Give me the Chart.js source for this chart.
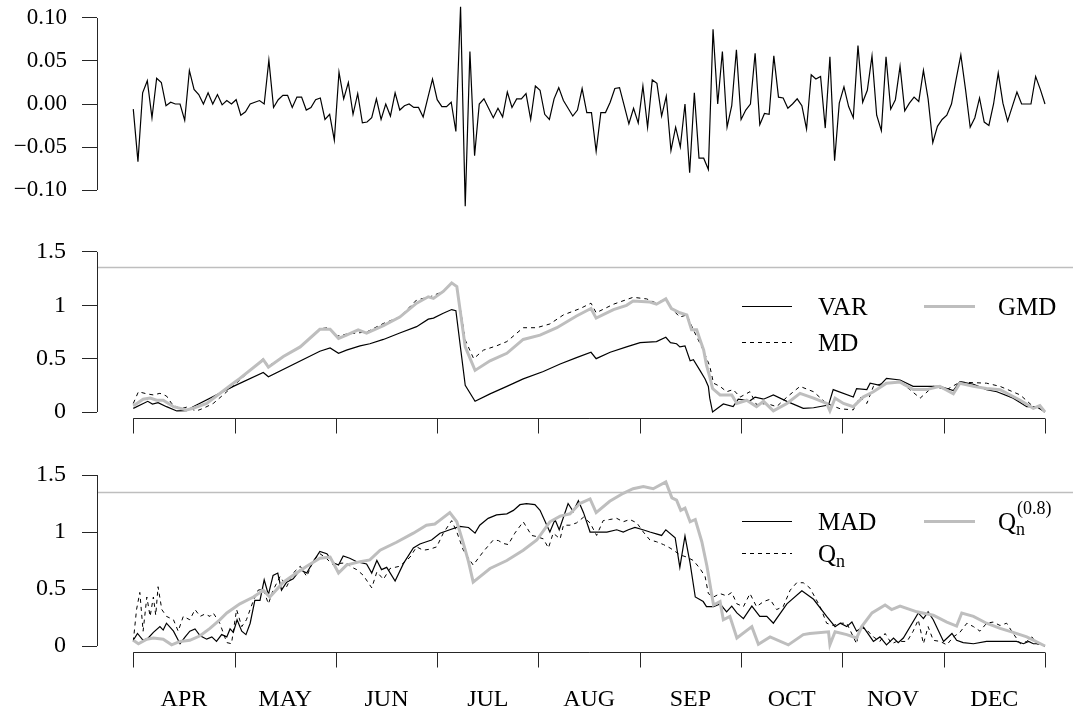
<!DOCTYPE html>
<html><head><meta charset="utf-8">
<script src="https://cdn.jsdelivr.net/npm/chart.js@4"></script>
<style>
html,body{margin:0;padding:0;background:#fff;}
#wrap{position:relative;width:1073px;height:711px;overflow:hidden;background:#fff;}
canvas{position:absolute;left:0;}
</style></head><body>
<div id="wrap">
<canvas id="c1" width="1073" height="215" style="top:0px"></canvas>
<canvas id="c2" width="1073" height="225" style="top:215px"></canvas>
<canvas id="c3" width="1073" height="271" style="top:440px"></canvas>
</div>
<script>
// ---------------- DATA ----------------
const monthLabels = ['APR','MAY','JUN','JUL','AUG','SEP','OCT','NOV','DEC'];
const topTicks = [-0.10,-0.05,0,0.05,0.10];
const scaleTicks = [0,0.5,1,1.5];
const refMid = 1.36;
const refBot = 1.35;

// daily returns, day index 0..195
const returns = [
-0.006,-0.067,0.013,0.027,-0.016,0.030,0.025,-0.002,0.002,0.000,
0.000,-0.019,0.039,0.017,0.011,0.000,0.013,0.000,0.011,-0.001,
0.004,0.000,0.005,-0.013,-0.009,0.000,0.002,0.004,0.000,0.051,
-0.004,0.005,0.010,0.010,-0.004,0.008,0.008,-0.007,-0.004,0.005,
0.007,-0.018,-0.012,-0.042,0.037,0.006,0.025,-0.012,0.012,
-0.022,-0.021,-0.016,0.006,-0.018,0.000,-0.014,0.013,-0.007,-0.002,
0.000,-0.004,-0.004,-0.015,0.007,0.029,0.005,-0.003,-0.003,0.002,
-0.032,0.113,-0.119,0.061,-0.060,0.000,0.006,-0.005,-0.016,-0.005,
-0.015,0.014,-0.004,0.006,0.006,0.012,-0.018,0.021,0.016,-0.012,
-0.018,0.006,0.019,0.004,-0.005,-0.014,-0.007,0.018,-0.010,-0.010,
-0.055,-0.010,-0.010,0.002,0.018,0.019,-0.002,-0.023,-0.005,-0.022,
0.021,-0.027,0.028,0.024,-0.014,0.009,-0.054,-0.027,-0.050,0.000,
-0.080,0.013,-0.063,-0.063,-0.076,
0.087,0.000,0.061,-0.027,-0.002,0.063,-0.018,-0.007,0.000,0.059,
-0.024,-0.011,-0.012,0.056,0.008,0.007,-0.005,0.000,0.006,-0.002,
-0.029,0.034,0.029,0.032,-0.028,0.055,-0.066,0.001,0.020,-0.003,
-0.016,0.068,0.002,0.016,0.056,-0.013,-0.031,0.055,-0.006,0.005,
0.044,-0.008,0.001,0.008,0.003,0.039,0.006,-0.045,-0.026,-0.018,
-0.013,0.000,0.029,0.057,0.017,-0.027,-0.016,0.007,-0.021,-0.025,
0.000,0.036,0.001,-0.020,-0.003,0.014,0.000,0.000,0.000,0.032,
0.017,0.000];

// [day index, value]
const varSeries = [[0,0.034],[3.1,0.10],[4.1,0.075],[5.3,0.088],[7.1,0.05],[9.3,0.01],[11.4,0.012],[12.8,0.05],[21.4,0.24],[27.8,0.37],[28.9,0.33],[39.9,0.57],[42.1,0.60],[43.9,0.55],[45.6,0.58],[48.5,0.62],[50.6,0.64],[53.5,0.68],[57.0,0.74],[60.6,0.80],[63.1,0.87],[64.2,0.88],[66.3,0.925],[68.1,0.96],[69.0,0.95],[71.0,0.25],[73.1,0.10],[76.3,0.17],[79.9,0.24],[83.4,0.31],[87.7,0.38],[91.3,0.45],[94.8,0.51],[97.9,0.56],[99.0,0.50],[102.0,0.56],[105.5,0.61],[108.4,0.65],[111.9,0.66],[113.9,0.70],[114.9,0.65],[116.2,0.64],[116.9,0.61],[118.0,0.62],[119.1,0.48],[119.8,0.49],[121.2,0.39],[122.3,0.31],[123.0,0.24],[123.3,0.13],[123.9,0.0],[126.2,0.075],[128.3,0.05],[129.4,0.12],[131.9,0.105],[133.0,0.14],[134.8,0.12],[136.9,0.16],[139.8,0.10],[143.3,0.035],[145.5,0.04],[148.7,0.065],[149.7,0.21],[154.0,0.14],[154.7,0.22],[156.9,0.21],[157.6,0.27],[159.7,0.25],[161.1,0.315],[164.0,0.30],[166.8,0.24],[170.4,0.24],[172.5,0.24],[175.4,0.20],[176.8,0.285],[179.7,0.26],[182.5,0.21],[184.7,0.19],[188.2,0.13],[191.1,0.05],[193.2,0.05],[195.0,0.0]];

const mdSeries = [[0,0.08],[1.1,0.19],[2.9,0.17],[4.3,0.16],[5.7,0.175],[7.1,0.15],[8.2,0.08],[10.0,0.03],[11.4,0.045],[13.5,0.01],[15.0,0.035],[17.1,0.08],[20.0,0.19],[22.8,0.30],[27.8,0.50],[28.9,0.43],[32.1,0.52],[35.7,0.61],[39.9,0.78],[41.7,0.79],[43.5,0.71],[45.6,0.73],[49.9,0.75],[53.5,0.83],[57.0,0.89],[60.6,1.05],[63.5,1.08],[66.3,1.13],[68.1,1.21],[69.2,1.175],[71.0,0.675],[72.8,0.50],[74.9,0.58],[77.7,0.62],[79.9,0.66],[83.4,0.79],[86.3,0.79],[89.1,0.825],[92.0,0.91],[95.6,0.97],[97.9,1.02],[99.0,0.93],[102.7,1.01],[106.9,1.075],[109.8,1.06],[111.9,1.02],[113.9,1.06],[115.1,0.97],[116.9,0.89],[118.4,0.91],[119.8,0.77],[121.9,0.58],[123.3,0.43],[124.1,0.27],[125.5,0.24],[126.9,0.19],[128.3,0.21],[129.8,0.14],[131.9,0.19],[133.3,0.07],[135.5,0.08],[137.6,0.05],[139.8,0.14],[142.6,0.24],[145.5,0.19],[148.3,0.08],[151.2,0.03],[154.0,0.02],[155.4,0.14],[156.9,0.08],[158.3,0.24],[160.4,0.27],[164.0,0.28],[166.1,0.21],[168.3,0.13],[171.1,0.24],[174.0,0.21],[176.8,0.28],[179.7,0.275],[182.5,0.27],[185.4,0.24],[189.7,0.16],[192.5,0.05],[193.9,0.05],[195.0,0.01]];

const gmdSeries = [[0,0.056],[2.1,0.12],[3.6,0.13],[5.0,0.11],[6.4,0.11],[8.6,0.05],[11.4,0.02],[12.8,0.035],[15.7,0.08],[21.4,0.27],[22.8,0.315],[27.8,0.49],[28.9,0.42],[32.1,0.52],[35.7,0.61],[39.9,0.775],[42.1,0.775],[43.9,0.69],[45.6,0.72],[48.1,0.77],[49.9,0.74],[53.5,0.81],[57.0,0.89],[60.6,1.02],[63.1,1.08],[64.2,1.065],[66.3,1.13],[68.1,1.21],[69.2,1.175],[71.0,0.61],[73.1,0.39],[76.3,0.48],[79.9,0.55],[83.4,0.68],[87.0,0.72],[90.6,0.79],[94.8,0.90],[97.9,0.97],[99.0,0.88],[102.7,0.96],[105.5,1.00],[106.9,1.04],[110.5,1.03],[111.9,1.01],[113.9,1.06],[115.1,0.97],[116.9,0.93],[118.4,0.91],[119.4,0.77],[120.5,0.77],[121.2,0.68],[122.0,0.58],[122.6,0.44],[123.3,0.33],[123.9,0.22],[125.5,0.16],[128.0,0.16],[129.1,0.08],[131.2,0.11],[133.3,0.05],[134.8,0.10],[136.9,0.01],[139.8,0.08],[142.6,0.175],[145.5,0.13],[148.3,0.08],[149.0,0.01],[150.1,0.13],[151.9,0.08],[154.0,0.05],[156.1,0.14],[158.3,0.19],[161.1,0.27],[164.0,0.28],[166.8,0.21],[169.7,0.21],[172.5,0.24],[175.4,0.17],[176.8,0.27],[179.7,0.24],[182.5,0.22],[185.4,0.21],[189.7,0.11],[192.5,0.035],[193.9,0.06],[195.0,0.0]];

const madSeries = [[0,0.05],[0.9,0.11],[2.1,0.05],[3.2,0.07],[4.3,0.12],[5.7,0.17],[6.4,0.14],[7.1,0.20],[8.6,0.13],[10.0,0.02],[11.1,0.08],[12.1,0.13],[13.2,0.15],[14.3,0.09],[15.7,0.06],[16.8,0.08],[17.8,0.04],[18.9,0.10],[20.0,0.08],[20.7,0.15],[21.4,0.12],[22.2,0.23],[23.2,0.13],[24.1,0.10],[25.0,0.20],[26.0,0.40],[27.1,0.40],[28.0,0.58],[28.9,0.45],[29.9,0.62],[30.9,0.64],[31.7,0.49],[32.8,0.56],[34.2,0.59],[35.7,0.67],[37.1,0.64],[38.5,0.74],[39.9,0.83],[41.4,0.81],[42.8,0.73],[43.9,0.71],[44.9,0.79],[46.3,0.77],[47.8,0.74],[49.9,0.72],[51.0,0.64],[52.1,0.75],[53.1,0.67],[54.2,0.69],[56.0,0.57],[57.8,0.725],[59.9,0.86],[61.3,0.895],[62.7,0.915],[63.8,0.93],[65.6,0.99],[67.7,1.02],[69.8,1.05],[71.7,1.04],[73.1,0.99],[74.1,1.06],[75.9,1.12],[77.7,1.15],[79.9,1.16],[81.3,1.19],[82.7,1.24],[84.1,1.25],[85.9,1.24],[87.0,1.19],[89.1,1.00],[90.2,1.11],[91.1,1.02],[93.0,1.25],[94.1,1.18],[95.2,1.275],[96.3,1.17],[97.7,1.00],[101.3,1.00],[103.4,1.02],[104.8,1.00],[105.9,1.02],[107.3,1.04],[109.0,1.02],[110.5,1.00],[113.0,0.97],[113.9,1.02],[115.9,0.95],[116.9,0.69],[118.0,0.965],[119.1,0.725],[120.2,0.43],[121.9,0.39],[122.6,0.345],[124.1,0.345],[125.5,0.37],[126.9,0.30],[128.0,0.35],[129.1,0.29],[130.5,0.24],[132.3,0.35],[134.0,0.26],[135.5,0.26],[136.9,0.20],[139.8,0.37],[143.0,0.485],[145.5,0.41],[148.3,0.26],[150.1,0.17],[151.2,0.20],[152.6,0.17],[153.7,0.21],[154.7,0.13],[156.1,0.17],[158.3,0.04],[159.7,0.08],[161.1,0.01],[162.6,0.07],[163.6,0.03],[164.7,0.07],[167.9,0.29],[169.0,0.24],[170.0,0.30],[171.1,0.23],[173.3,0.04],[175.1,0.11],[176.1,0.05],[177.5,0.03],[179.7,0.02],[182.5,0.04],[188.9,0.04],[190.4,0.02],[191.5,0.04],[192.5,0.02],[193.9,0.02],[195.0,0.0]];

const qnSeries = [[0,0.04],[0.7,0.32],[1.4,0.47],[2.1,0.13],[2.9,0.43],[3.6,0.26],[4.3,0.43],[4.8,0.27],[5.3,0.52],[6.1,0.32],[7.1,0.26],[8.6,0.23],[9.6,0.13],[10.7,0.26],[12.1,0.23],[13.2,0.32],[14.3,0.26],[15.3,0.28],[16.4,0.26],[17.1,0.29],[18.5,0.20],[20.0,0.03],[21.0,0.02],[22.1,0.32],[23.2,0.17],[24.2,0.23],[25.7,0.40],[26.7,0.49],[27.8,0.50],[28.9,0.37],[29.9,0.49],[31.4,0.61],[32.8,0.52],[34.2,0.64],[35.7,0.70],[37.1,0.61],[38.5,0.75],[39.9,0.81],[41.0,0.78],[42.8,0.71],[44.2,0.725],[45.6,0.73],[46.3,0.70],[47.8,0.67],[49.2,0.62],[51.0,0.51],[52.1,0.65],[53.5,0.585],[54.9,0.68],[57.0,0.70],[59.2,0.78],[60.6,0.87],[62.0,0.84],[63.5,0.85],[64.9,0.87],[66.3,0.99],[68.1,1.10],[69.2,1.00],[70.6,0.84],[71.7,0.77],[72.7,0.71],[74.9,0.83],[77.0,0.93],[78.1,0.925],[79.1,0.90],[80.2,0.89],[81.6,0.99],[83.4,1.09],[85.2,0.97],[86.3,0.96],[87.7,0.94],[88.8,0.86],[89.8,0.99],[91.3,0.94],[92.0,1.06],[93.4,1.06],[94.8,1.08],[96.3,1.13],[97.7,1.08],[99.1,0.97],[100.5,1.10],[101.9,1.11],[103.4,1.12],[104.8,1.09],[106.2,1.11],[107.7,1.08],[109.1,1.00],[110.5,0.93],[111.9,0.915],[113.4,0.89],[114.8,0.86],[115.9,0.83],[116.9,0.80],[118.4,0.78],[119.8,0.75],[121.2,0.68],[122.3,0.61],[123.0,0.46],[124.1,0.43],[125.5,0.46],[126.9,0.44],[128.0,0.47],[129.1,0.37],[130.5,0.345],[131.9,0.46],[133.3,0.345],[134.8,0.39],[136.2,0.41],[137.6,0.32],[139.0,0.345],[140.5,0.49],[141.9,0.555],[143.3,0.555],[144.7,0.51],[146.9,0.345],[148.3,0.20],[149.7,0.18],[151.2,0.20],[152.6,0.20],[154.7,0.02],[155.4,0.17],[156.9,0.14],[158.3,0.08],[159.7,0.04],[160.8,0.11],[162.2,0.02],[163.3,0.04],[165.5,0.04],[166.8,0.13],[167.9,0.23],[169.0,0.02],[170.0,0.17],[171.1,0.05],[172.6,0.04],[174.0,0.01],[175.4,0.08],[176.8,0.12],[178.3,0.20],[179.7,0.17],[181.1,0.13],[182.5,0.20],[183.9,0.21],[185.4,0.18],[186.8,0.20],[188.2,0.11],[189.7,0.02],[191.1,0.04],[192.2,0.08],[193.2,0.02],[195.0,0.0]];

const qn08Series = [[0,0.05],[1.1,0.02],[2.9,0.06],[4.3,0.07],[6.4,0.06],[8.2,0.01],[10.0,0.04],[12.1,0.05],[14.3,0.09],[16.4,0.155],[18.5,0.23],[20.0,0.29],[22.8,0.37],[25.7,0.43],[27.8,0.49],[29.2,0.43],[32.1,0.56],[34.2,0.62],[37.1,0.70],[39.9,0.77],[42.1,0.78],[43.9,0.64],[45.6,0.71],[48.5,0.74],[50.6,0.755],[52.8,0.84],[56.3,0.91],[59.9,0.99],[62.7,1.06],[64.5,1.07],[65.6,1.105],[67.7,1.17],[69.2,1.09],[70.6,0.90],[71.7,0.74],[72.7,0.56],[76.3,0.68],[79.9,0.75],[83.4,0.84],[86.3,0.93],[89.1,1.09],[91.3,1.14],[93.4,1.16],[95.5,1.25],[97.7,1.29],[99.0,1.17],[101.9,1.27],[104.8,1.34],[106.9,1.38],[109.1,1.40],[111.2,1.38],[113.9,1.44],[115.2,1.30],[116.2,1.28],[117.1,1.19],[118.0,1.21],[119.1,1.09],[120.2,1.11],[121.6,0.915],[122.7,0.70],[124.1,0.36],[125.5,0.39],[126.2,0.23],[127.6,0.26],[129.1,0.07],[132.3,0.17],[133.7,0.015],[136.2,0.08],[140.1,0.01],[143.3,0.10],[144.7,0.11],[148.7,0.125],[149.0,0.01],[150.1,0.125],[152.6,0.10],[154.7,0.07],[155.8,0.17],[158.0,0.29],[160.8,0.36],[162.2,0.32],[164.0,0.35],[167.6,0.30],[171.1,0.27],[174.0,0.21],[176.1,0.175],[177.2,0.29],[179.7,0.26],[182.5,0.20],[185.4,0.155],[188.2,0.12],[191.1,0.08],[195.0,0.0]];

// ---------------- LAYOUT / STYLE ----------------
const LAST = returns.length - 1;          // last day index
const X_MIN = -7.76, X_MAX = 200.99;       // plot-region extent (R style 4% margin)
const FONT = "'Liberation Serif','Times New Roman',serif";
const GRAY = '#bebebe';
const AXIS = '#262626';
Chart.defaults.font.family = FONT;
Chart.defaults.color = '#000';

const toPts = arr => arr.map(p => ({x: p[0], y: p[1]}));

function yScale(min, max, ticks, fmt, size, pad) {
  return {
    type: 'linear', min, max, position: 'left',
    afterBuildTicks: s => { s.ticks = ticks.map(v => ({value: v})); },
    afterFit: s => { s.width = 97; s.paddingTop = 0; s.paddingBottom = 0; },
    ticks: { callback: fmt, font: {size, family: FONT}, padding: pad, color: '#000', autoSkip: false },
    grid: { display: true, drawOnChartArea: false, drawTicks: true, tickLength: 15, color: AXIS, lineWidth: 1 },
    border: { display: false }
  };
}
const hiddenX = { type: 'linear', min: X_MIN, max: X_MAX, display: false };

function rAxes(opts) {
  return {
    id: 'rAxes' + opts.key,
    beforeDatasetsDraw(chart) {
      if (opts.ref == null) return;
      const ctx = chart.ctx, ca = chart.chartArea, y = chart.scales.y;
      const py = Math.round(y.getPixelForValue(opts.ref)) + 0.5;
      ctx.save();
      ctx.strokeStyle = GRAY; ctx.lineWidth = 1.5;
      ctx.beginPath(); ctx.moveTo(ca.left, py); ctx.lineTo(ca.right, py); ctx.stroke();
      ctx.restore();
    },
    afterDraw(chart) {
      const ctx = chart.ctx, ca = chart.chartArea, y = chart.scales.y, x = chart.scales.x;
      ctx.save();
      ctx.strokeStyle = AXIS; ctx.lineWidth = 1;
      // y axis line between extreme ticks
      const yt = opts.yTicks;
      const lx = Math.round(ca.left) + 0.5;
      ctx.beginPath();
      ctx.moveTo(lx, y.getPixelForValue(yt[0]));
      ctx.lineTo(lx, y.getPixelForValue(yt[yt.length - 1]));
      ctx.stroke();
      if (opts.xAxis) {
        const by = Math.round(ca.bottom) + 0.5;
        ctx.beginPath();
        ctx.moveTo(x.getPixelForValue(0), by);
        ctx.lineTo(x.getPixelForValue(LAST), by);
        for (let k = 0; k <= monthLabels.length; k++) {
          const px = Math.round(x.getPixelForValue(k * LAST / monthLabels.length)) + 0.5;
          ctx.moveTo(px, by); ctx.lineTo(px, by + 15);
        }
        ctx.stroke();
      }
      if (opts.legend) drawLegend(ctx, opts.legend);
      ctx.restore();
    }
  };
}

function drawLegend(ctx, items) {
  items.forEach(it => {
    ctx.save();
    ctx.strokeStyle = it.color; ctx.lineWidth = it.width;
    ctx.setLineDash(it.dash || []);
    ctx.beginPath(); ctx.moveTo(it.x1, it.y + 0.5); ctx.lineTo(it.x2, it.y + 0.5); ctx.stroke();
    ctx.setLineDash([]);
    ctx.fillStyle = '#000';
    ctx.textBaseline = 'alphabetic'; ctx.textAlign = 'left';
    ctx.font = '25px ' + FONT;
    const base = it.y + 9;
    ctx.fillText(it.label, it.tx, base);
    const w = ctx.measureText(it.label).width;
    if (it.sub) { ctx.font = '18px ' + FONT; ctx.fillText(it.sub, it.tx + w, base + 5); }
    if (it.sup) { ctx.font = '18px ' + FONT; ctx.fillText(it.sup, it.tx + w + 1, base - 16); }
    ctx.restore();
  });
}

const common = { responsive: false, animation: false, events: [],
  plugins: { legend: { display: false }, tooltip: { enabled: false } } };

// ---------------- PANEL 1 ----------------
new Chart(document.getElementById('c1'), {
  type: 'line',
  data: { datasets: [{ data: returns.map((v, i) => ({x: i, y: v})), borderColor: '#000', borderWidth: 1.2,
    pointRadius: 0, tension: 0, fill: false, clip: false }] },
  options: Object.assign({}, common, {
    layout: { padding: { top: 2, bottom: 9, left: 0, right: 0 } },
    scales: { x: hiddenX,
      y: yScale(-0.1186, 0.1186, topTicks, v => (v < 0 ? '\u2212' : '') + Math.abs(v).toFixed(2), 23, 15) }
  }),
  plugins: [rAxes({ key: 1, yTicks: topTicks })]
});

// ---------------- PANEL 2 ----------------
const fmtScale = v => String(v);
new Chart(document.getElementById('c2'), {
  type: 'line',
  data: { datasets: [
    { data: toPts(gmdSeries), borderColor: GRAY, borderWidth: 3, order: 0 },
    { data: toPts(mdSeries), borderColor: '#000', borderWidth: 1, borderDash: [4, 4], order: 1 },
    { data: toPts(varSeries), borderColor: '#000', borderWidth: 1.2, order: 2 }
  ].map(d => Object.assign(d, { pointRadius: 0, tension: 0, fill: false, clip: false })) },
  options: Object.assign({}, common, {
    layout: { padding: { top: 17, bottom: 22, left: 0, right: 0 } },
    scales: { x: hiddenX, y: yScale(-0.0562, 1.687, scaleTicks, fmtScale, 24, 16) }
  }),
  plugins: [rAxes({ key: 2, yTicks: scaleTicks, ref: refMid, xAxis: true, legend: [
    { x1: 742, x2: 792, y: 91, color: '#000', width: 1.2, label: 'VAR', tx: 818 },
    { x1: 742, x2: 792, y: 127, color: '#000', width: 1, dash: [4, 4], label: 'MD', tx: 818 },
    { x1: 924, x2: 975, y: 91, color: GRAY, width: 3, label: 'GMD', tx: 998 }
  ] })]
});

// ---------------- PANEL 3 ----------------
new Chart(document.getElementById('c3'), {
  type: 'line',
  data: { datasets: [
    { data: toPts(qn08Series), borderColor: GRAY, borderWidth: 3, order: 0 },
    { data: toPts(qnSeries), borderColor: '#000', borderWidth: 1, borderDash: [4, 4], order: 1 },
    { data: toPts(madSeries), borderColor: '#000', borderWidth: 1.2, order: 2 }
  ].map(d => Object.assign(d, { pointRadius: 0, tension: 0, fill: false, clip: false })) },
  options: Object.assign({}, common, {
    layout: { padding: { top: 20, bottom: 0, left: 0, right: 0 } },
    scales: {
      x: { type: 'linear', min: X_MIN, max: X_MAX, position: 'bottom',
        afterBuildTicks: s => { s.ticks = monthLabels.map((m, i) => ({value: (i + 0.5) * LAST / monthLabels.length})); },
        afterFit: s => { s.height = 59; s.paddingLeft = 0; s.paddingRight = 0; },
        ticks: { callback: (v, i) => monthLabels[i], font: {size: 24, family: FONT}, padding: 33, maxRotation: 0, autoSkip: false, color: '#000' },
        grid: { display: false, drawTicks: false }, border: { display: false } },
      y: yScale(-0.0526, 1.632, scaleTicks, fmtScale, 24, 16)
    }
  }),
  plugins: [rAxes({ key: 3, yTicks: scaleTicks, ref: refBot, xAxis: true, legend: [
    { x1: 742, x2: 792, y: 81, color: '#000', width: 1.2, label: 'MAD', tx: 818 },
    { x1: 742, x2: 792, y: 113, color: '#000', width: 1, dash: [4, 4], label: 'Q', sub: 'n', tx: 818 },
    { x1: 924, x2: 975, y: 81, color: GRAY, width: 3, label: 'Q', sub: 'n', sup: '(0.8)', tx: 998 }
  ] })]
});
</script>
</body></html>
